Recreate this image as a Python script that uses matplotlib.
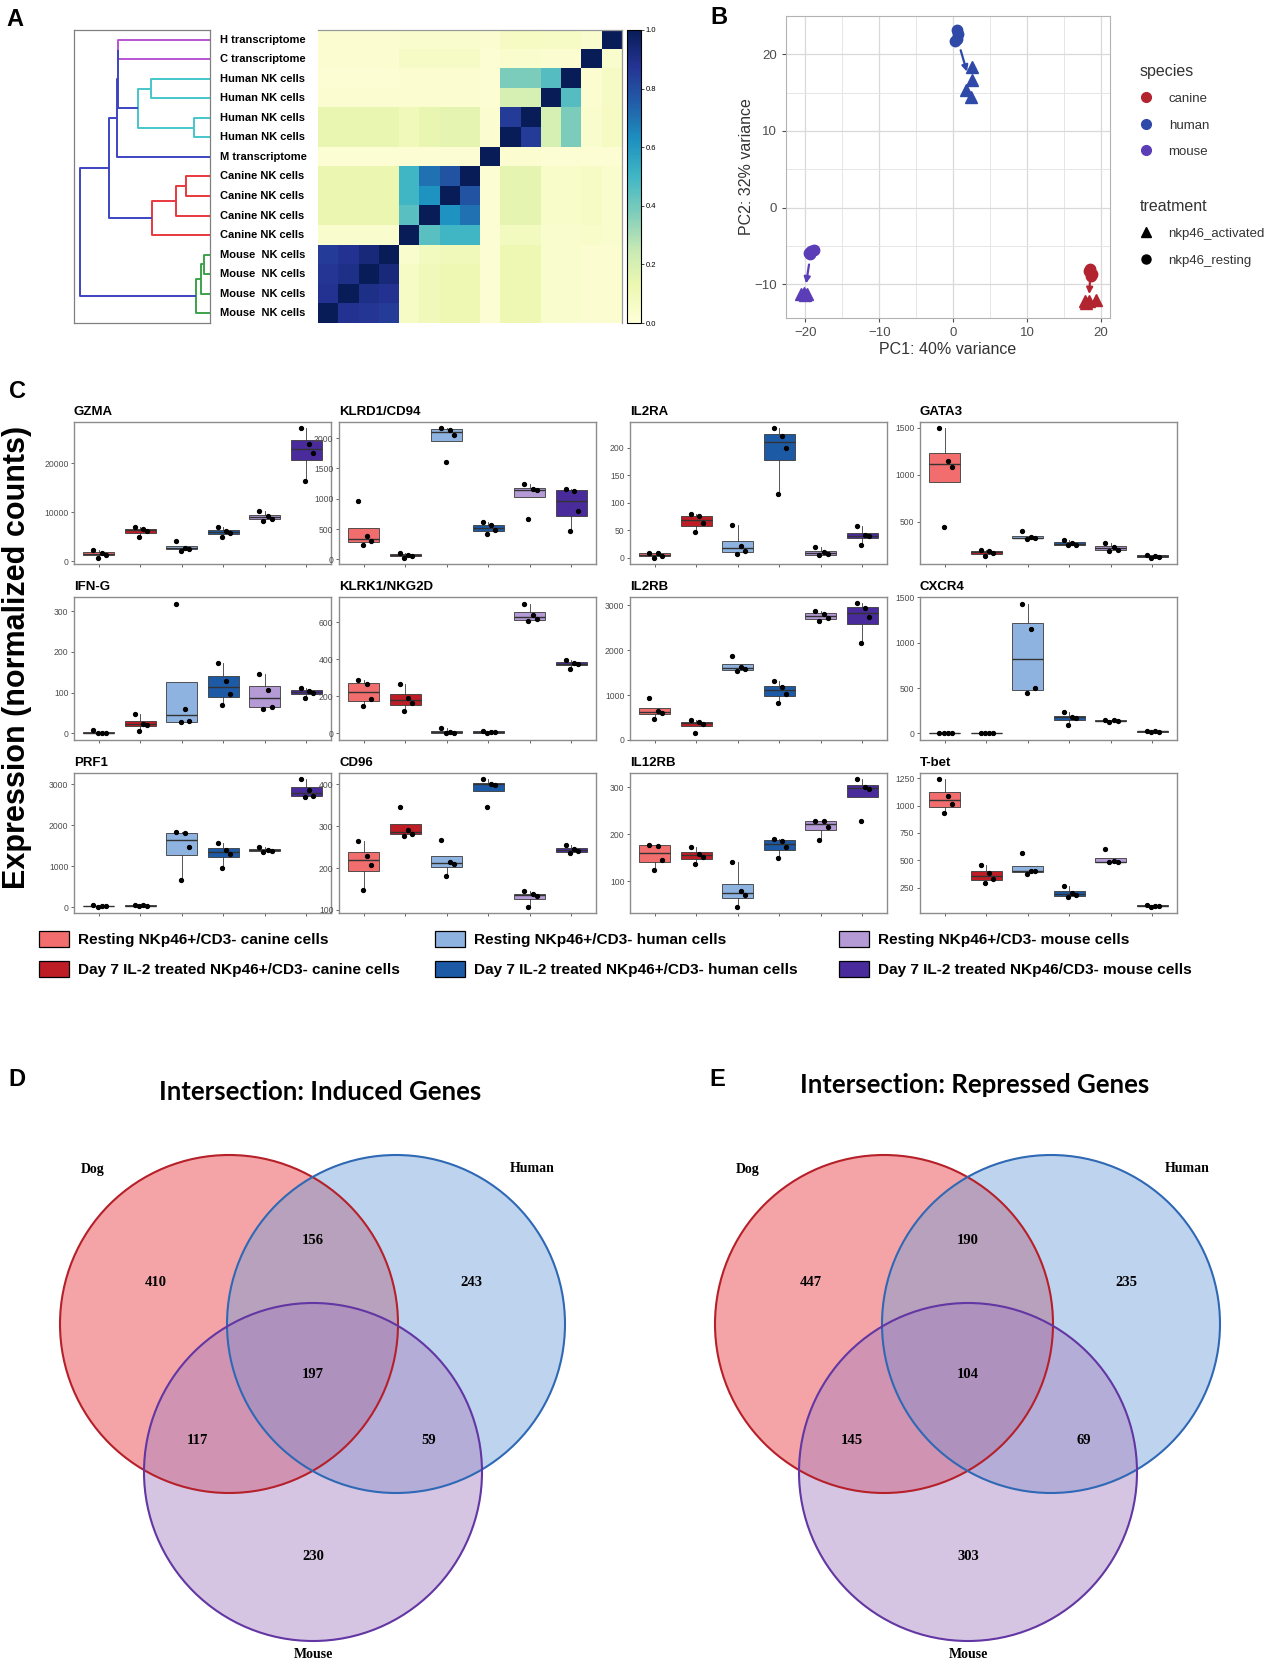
import matplotlib
matplotlib.use('Agg')
import matplotlib.pyplot as plt
import matplotlib.transforms as mtrans
import numpy as np
from matplotlib.patches import Circle, Patch
from matplotlib.lines import Line2D

plt.rcParams['font.family'] = ['Liberation Sans', 'DejaVu Sans']

# ---------------- data: panel A ----------------
sample_labels = ['H transcriptome', 'C transcriptome',
                 'Human NK cells', 'Human NK cells', 'Human NK cells', 'Human NK cells',
                 'M transcriptome',
                 'Canine NK cells', 'Canine NK cells', 'Canine NK cells', 'Canine NK cells',
                 'Mouse  NK cells', 'Mouse  NK cells', 'Mouse  NK cells', 'Mouse  NK cells']

# correlation matrix as shown (rows top->bottom, columns left->right)
similarity = [
    [0.03, 0.03, 0.03, 0.03, 0.04, 0.04, 0.04, 0.04, 0.03, 0.07, 0.07, 0.06, 0.06, 0.04, 1.00],
    [0.03, 0.03, 0.03, 0.03, 0.06, 0.06, 0.06, 0.06, 0.02, 0.04, 0.04, 0.03, 0.03, 1.00, 0.04],
    [0.02, 0.02, 0.02, 0.02, 0.03, 0.03, 0.03, 0.03, 0.02, 0.38, 0.38, 0.46, 1.00, 0.03, 0.06],
    [0.03, 0.03, 0.03, 0.03, 0.03, 0.03, 0.03, 0.03, 0.02, 0.20, 0.20, 1.00, 0.46, 0.03, 0.06],
    [0.14, 0.14, 0.14, 0.14, 0.10, 0.14, 0.15, 0.15, 0.03, 0.85, 1.00, 0.20, 0.38, 0.04, 0.07],
    [0.14, 0.14, 0.14, 0.14, 0.10, 0.14, 0.15, 0.15, 0.03, 1.00, 0.85, 0.20, 0.38, 0.04, 0.07],
    [0.02, 0.02, 0.02, 0.02, 0.02, 0.02, 0.02, 0.02, 1.00, 0.03, 0.03, 0.02, 0.02, 0.02, 0.02],
    [0.13, 0.13, 0.13, 0.13, 0.50, 0.70, 0.78, 1.00, 0.02, 0.15, 0.15, 0.05, 0.05, 0.06, 0.04],
    [0.13, 0.13, 0.13, 0.13, 0.50, 0.62, 1.00, 0.78, 0.02, 0.15, 0.15, 0.05, 0.05, 0.06, 0.04],
    [0.13, 0.13, 0.13, 0.13, 0.45, 1.00, 0.62, 0.70, 0.02, 0.15, 0.15, 0.05, 0.05, 0.06, 0.04],
    [0.04, 0.04, 0.04, 0.04, 1.00, 0.45, 0.50, 0.50, 0.02, 0.08, 0.08, 0.04, 0.04, 0.05, 0.04],
    [0.85, 0.88, 0.93, 1.00, 0.04, 0.08, 0.10, 0.10, 0.02, 0.12, 0.12, 0.04, 0.04, 0.03, 0.03],
    [0.87, 0.90, 1.00, 0.93, 0.06, 0.10, 0.12, 0.12, 0.02, 0.12, 0.12, 0.04, 0.04, 0.03, 0.03],
    [0.88, 1.00, 0.90, 0.88, 0.06, 0.10, 0.12, 0.12, 0.02, 0.12, 0.12, 0.04, 0.04, 0.03, 0.03],
    [1.00, 0.88, 0.87, 0.85, 0.06, 0.10, 0.12, 0.12, 0.02, 0.12, 0.12, 0.04, 0.04, 0.03, 0.03],
]

# dendrogram merges: (child a, child b, height, colour); new nodes numbered from 15
merges = [
    (0, 1, 85.5, 'purple'),
    (2, 3, 55.5, 'cyan'),
    (4, 5, 15.0, 'cyan'),
    (16, 17, 67.0, 'cyan'),
    (15, 18, 86.0, 'blue'),
    (19, 6, 86.6, 'blue'),
    (7, 8, 22.0, 'red'),
    (21, 9, 32.0, 'red'),
    (22, 10, 54.0, 'red'),
    (20, 23, 94.0, 'blue'),
    (11, 12, 6.0, 'green'),
    (25, 13, 8.5, 'green'),
    (26, 14, 13.0, 'green'),
    (24, 27, 121.0, 'blue'),
]
link_colours = {'purple': '#b455d2', 'cyan': '#45c6c9', 'blue': '#3c44c2',
                'red': '#e8383d', 'green': '#3da34a'}

# ---------------- data: panel B ----------------
canine_rest_pc1 = [18.5, 18.7, 18.4, 18.6]
canine_rest_pc2 = [-8.0, -8.6, -8.3, -8.9]
canine_act_pc1 = [17.8, 18.3, 19.3, 18.0]
canine_act_pc2 = [-12.2, -12.2, -12.0, -12.5]
human_rest_pc1 = [0.5, 0.6, 0.2, 0.5]
human_rest_pc2 = [23.2, 22.6, 21.8, 22.0]
human_act_pc1 = [2.6, 2.6, 1.75, 2.35]
human_act_pc2 = [18.4, 16.6, 15.3, 14.4]
mouse_rest_pc1 = [-18.8, -19.5, -19.2, -19.4]
mouse_rest_pc2 = [-5.5, -5.9, -5.7, -6.0]
mouse_act_pc1 = [-20.6, -19.7, -20.1, -20.0]
mouse_act_pc2 = [-11.3, -11.3, -11.1, -11.4]
species = ['canine', 'human', 'mouse']
species_colours = ['#b22430', '#2f49a8', '#5b3db8']

# ---------------- data: panel C ----------------
genes = ['GZMA', 'KLRD1/CD94', 'IL2RA', 'GATA3',
         'IFN-G', 'KLRK1/NKG2D', 'IL2RB', 'CXCR4',
         'PRF1', 'CD96', 'IL12RB', 'T-bet']
gzma = [[2300, 1700, 1400, 800], [7000, 6600, 6200, 4900], [4100, 2800, 2600, 2200],
        [7100, 6300, 5700, 5000], [10300, 9300, 8700, 8200], [27100, 23900, 22000, 16400]]
klrd1 = [[960, 380, 300, 240], [100, 80, 60, 30], [2160, 2140, 2060, 1600],
         [610, 560, 480, 420], [1250, 1160, 1140, 670], [1160, 1130, 790, 460]]
il2ra = [[9, 8, 3, 0], [79, 75, 62, 46], [59, 21, 12, 6],
         [235, 222, 199, 116], [19, 10, 6, 4], [57, 41, 39, 22]]
gata3 = [[1490, 1140, 1080, 440], [195, 185, 170, 135], [400, 335, 325, 320],
         [310, 270, 255, 250], [270, 230, 205, 190], [150, 140, 130, 120]]
ifng = [[8, 2, 1, 0], [47, 24, 22, 5], [319, 61, 30, 27],
        [172, 130, 97, 70], [145, 106, 66, 61], [112, 105, 100, 87]]
klrk1 = [[290, 265, 185, 150], [265, 192, 165, 120], [30, 8, 3, 0],
         [15, 10, 6, 3], [700, 640, 615, 605], [395, 380, 372, 350]]
il2rb = [[940, 640, 610, 460], [440, 390, 360, 150], [1870, 1620, 1580, 1530],
         [1310, 1180, 1030, 830], [2880, 2800, 2710, 2640], [3040, 2930, 2730, 2160]]
cxcr4 = [[8, 4, 2, 0], [10, 8, 6, 4], [1430, 1150, 495, 440],
         [235, 185, 175, 90], [150, 145, 140, 130], [30, 25, 20, 18]]
prf1 = [[40, 25, 15, 10], [50, 40, 30, 25], [1830, 1800, 1460, 670],
        [1570, 1400, 1300, 950], [1470, 1400, 1370, 1350], [3120, 2860, 2720, 2690]]
cd96 = [[265, 230, 208, 148], [347, 290, 282, 276], [268, 215, 210, 182],
        [412, 402, 398, 347], [146, 137, 133, 108], [255, 246, 240, 235]]
il12rb = [[178, 176, 146, 124], [173, 158, 152, 137], [140, 80, 70, 46],
          [190, 186, 172, 150], [229, 228, 216, 187], [317, 301, 297, 229]]
tbet = [[1240, 1090, 1010, 935], [455, 380, 330, 290], [570, 405, 400, 375],
        [265, 200, 180, 160], [600, 490, 485, 480], [90, 85, 80, 75]]
expression = [gzma, klrd1, il2ra, gata3, ifng, klrk1, il2rb, cxcr4, prf1, cd96, il12rb, tbet]
gene_ticks = [[0, 10000, 20000], [0, 500, 1000, 1500, 2000], [0, 50, 100, 150, 200], [500, 1000, 1500],
              [0, 100, 200, 300], [0, 200, 400, 600], [0, 1000, 2000, 3000], [0, 500, 1000, 1500],
              [0, 1000, 2000, 3000], [100, 200, 300, 400], [100, 200, 300], [250, 500, 750, 1000, 1250]]
group_labels = ['Resting NKp46+/CD3- canine cells', 'Day 7 IL-2 treated NKp46+/CD3- canine cells',
                'Resting NKp46+/CD3- human cells', 'Day 7 IL-2 treated NKp46+/CD3- human cells',
                'Resting NKp46+/CD3- mouse cells', 'Day 7 IL-2 treated NKp46/CD3- mouse cells']
group_colours = ['#f26d6d', '#bf1d25', '#8fb3e0', '#1c5aa6', '#b49bd6', '#4a2b9c']

# ---------------- data: panels D / E ----------------
venn_sets = ['Dog', 'Human', 'Mouse']
# regions: dog only, dog&human, human only, all, dog&mouse, human&mouse, mouse only
induced_counts = [410, 156, 243, 197, 117, 59, 230]
repressed_counts = [447, 190, 235, 104, 145, 69, 303]

# ---------------- figure ----------------
W, H = 1280, 1662
fig = plt.figure(figsize=(W / 100, H / 100), dpi=100)


def px_axes(x0, y0, x1, y1):
    return fig.add_axes([x0 / W, 1 - y1 / H, (x1 - x0) / W, (y1 - y0) / H])


def letter(x, y, s):
    fig.text(x / W, 1 - y / H, s, ha='left', va='top', fontsize=17, weight='bold')


# ---- A: dendrogram ----
ax_d = px_axes(74, 30, 210, 323)
pos = {i: float(i) for i in range(15)}
hgt = {i: 0.0 for i in range(15)}
for k, (a, b, h, c) in enumerate(merges):
    ax_d.plot([hgt[a], h, h, hgt[b]], [pos[a], pos[a], pos[b], pos[b]],
              color=link_colours[c], lw=1.4, solid_capstyle='butt')
    pos[15 + k] = (pos[a] + pos[b]) / 2
    hgt[15 + k] = h
ax_d.set_xlim(127, 0)
ax_d.set_ylim(14.5, -0.5)
ax_d.set_xticks([])
ax_d.set_yticks([])
for s in ax_d.spines.values():
    s.set_color('#808080')
    s.set_linewidth(0.9)

# ---- A: heatmap ----
ax_hm = px_axes(318, 30, 622, 323)
im = ax_hm.imshow(np.array(similarity), cmap='YlGnBu', vmin=0, vmax=1,
                  aspect='auto', interpolation='nearest')
ax_hm.set_xticks([])
ax_hm.set_yticks([])
for side, s in ax_hm.spines.items():
    s.set_visible(side in ('top', 'right'))
    s.set_color('#999999')
    s.set_linewidth(0.9)
trans = mtrans.blended_transform_factory(ax_hm.transAxes, ax_hm.transData)
for i, lab in enumerate(sample_labels):
    ax_hm.text(-0.322, i, lab, transform=trans, ha='left', va='center',
               fontsize=8.0, weight='bold')

cax = px_axes(627, 30, 641, 323)
cb = fig.colorbar(im, cax=cax, ticks=[0, 0.2, 0.4, 0.6, 0.8, 1.0])
cb.ax.tick_params(labelsize=5.5, length=2, width=0.5, pad=1.5)
cb.outline.set_linewidth(0.8)
letter(6, 8, 'A')

# ---- B: PCA ----
axB = px_axes(786, 16, 1110, 318)
pca = [(canine_rest_pc1, canine_rest_pc2, canine_act_pc1, canine_act_pc2),
       (human_rest_pc1, human_rest_pc2, human_act_pc1, human_act_pc2),
       (mouse_rest_pc1, mouse_rest_pc2, mouse_act_pc1, mouse_act_pc2)]
for (rx, ry, ax_, ay), col in zip(pca, species_colours):
    axB.plot(rx, ry, 'o', color=col, ms=7.5, zorder=3)
    axB.plot(ax_, ay, '^', color=col, ms=8, zorder=3)
    r0 = np.array([np.mean(rx), np.mean(ry)])
    a0 = np.array([np.mean(ax_), np.mean(ay)])
    start = r0 + 0.3 * (a0 - r0)
    end = r0 + 0.75 * (a0 - r0)
    axB.annotate('', xy=end, xytext=start,
                 arrowprops=dict(arrowstyle='-|>', color=col, lw=1.6, mutation_scale=9,
                                 shrinkA=0, shrinkB=0), zorder=3)
axB.set_xlim(-22.6, 21.2)
axB.set_ylim(-14.4, 25.0)
axB.set_xticks([-20, -10, 0, 10, 20])
axB.set_yticks([-10, 0, 10, 20])
axB.set_xticks([-15, -5, 5, 15], minor=True)
axB.set_yticks([-5, 5, 15], minor=True)
axB.grid(True, which='major', color='#d9d9d9', lw=0.9)
axB.grid(True, which='minor', color='#e6e6e6', lw=0.7)
axB.set_axisbelow(True)
axB.tick_params(which='major', labelsize=9.5, labelcolor='#4d4d4d', color='#4d4d4d', length=3)
axB.tick_params(which='minor', length=0)
for s in axB.spines.values():
    s.set_color('#b3b3b3')
axB.set_xlabel('PC1: 40% variance', fontsize=11.5, color='#333333', labelpad=2)
axB.set_ylabel('PC2: 32% variance', fontsize=11.5, color='#333333', labelpad=0)

leg_kw = dict(loc='upper left', frameon=False, fontsize=9.5, title_fontsize=11.5,
              alignment='left', borderpad=0, handlelength=1.0, handletextpad=1.2,
              labelspacing=1.08)
sp_handles = [Line2D([], [], marker='o', ls='', color=c, ms=7) for c in species_colours]
leg1 = axB.legend(sp_handles, species, title='species',
                  bbox_to_anchor=((1133 - 786) / 324, (318 - 57) / 302), **leg_kw)
for t in leg1.get_texts():
    t.set_color('#333333')
leg1.get_title().set_color('#333333')
axB.add_artist(leg1)
tr_handles = [Line2D([], [], marker='^', ls='', color='black', ms=7.5),
              Line2D([], [], marker='o', ls='', color='black', ms=6.5)]
leg2 = axB.legend(tr_handles, ['nkp46_activated', 'nkp46_resting'], title='treatment',
                  bbox_to_anchor=((1133 - 786) / 324, (318 - 192) / 302), **leg_kw)
for t in leg2.get_texts():
    t.set_color('#333333')
leg2.get_title().set_color('#333333')
letter(710, 6, 'B')

# ---- C: box plots ----
col_left = [74, 339, 630, 920]
row_top = [422, 597, 773]
row_bottom = [564, 740, 913]
box_w = 257
jitter = [-0.13, 0.07, 0.17, -0.03]
for idx, (gene, vals, ticks) in enumerate(zip(genes, expression, gene_ticks)):
    r, c = divmod(idx, 4)
    ax = px_axes(col_left[c], row_top[r], col_left[c] + box_w, row_bottom[r])
    bp = ax.boxplot(vals, positions=range(1, 7), widths=0.75, patch_artist=True,
                    showcaps=False, showfliers=False,
                    boxprops=dict(edgecolor='#3a3a3a', linewidth=0.6),
                    medianprops=dict(color='#333333', linewidth=1.0),
                    whiskerprops=dict(color='#3a3a3a', linewidth=0.6))
    for patch, col in zip(bp['boxes'], group_colours):
        patch.set_facecolor(col)
    for g, v in enumerate(vals):
        ax.plot(np.array(jitter[:len(v)]) + g + 1, v, 'o', color='black', ms=2.8, zorder=4)
    ax.set_xlim(0.4, 6.6)
    ax.set_yticks(ticks)
    ax.set_xticks(range(1, 7))
    ax.set_xticklabels([])
    ax.tick_params(labelsize=6.2, labelcolor='#4d4d4d', color='#4d4d4d', length=2.5,
                   width=0.6, pad=1.5)
    for s in ax.spines.values():
        s.set_color('#8c8c8c')
        s.set_linewidth(1.0)
    ax.set_title(gene, loc='left', fontsize=9.5, weight='bold', pad=5)

letter(9, 380, 'C')
fig.text(17 / W, 1 - 657 / H, 'Expression (normalized counts)', rotation=90,
         ha='center', va='center', fontsize=22, weight='bold')

legend_x = [39, 435, 839]
for k, x in enumerate(legend_x):
    handles = [Patch(facecolor=group_colours[2 * k + j], edgecolor='black', linewidth=0.9)
               for j in range(2)]
    fig.legend(handles, group_labels[2 * k:2 * k + 2], loc='upper left',
               bbox_to_anchor=(x / W, 1 - 931 / H), frameon=False, borderpad=0,
               borderaxespad=0, handlelength=1.95, handleheight=1.22, handletextpad=0.55,
               labelspacing=0.9, prop=dict(weight='bold', size=11.1))

# ---- D / E: Venn diagrams ----
axV = px_axes(0, 1040, 1280, 1662)
axV.set_xlim(0, 1280)
axV.set_ylim(1662, 1040)
axV.axis('off')
radius = 169
centre_offsets = [(0, 0), (167, 0), (84, 148)]
face_cols = ['#e8363a', '#6f9fd8', '#a67fc0']
edge_cols = ['#b5202a', '#2f68b4', '#6236a3']
region_offsets = [(-73, -42), (84, -84), (242, -42), (84, 50), (-32, 117), (200, 117), (84, 233)]
set_label_offsets = [(-136, -155), (303, -155), (84, 331)]
venns = [(229, 1324, induced_counts, 'Intersection: Induced Genes', 1092, 'D', 8),
         (884, 1324, repressed_counts, 'Intersection: Repressed Genes', 1085, 'E', 709)]
for cx, cy, counts, title, ty, lab, lx in venns:
    for (dx, dy), fc in zip(centre_offsets, face_cols):
        axV.add_patch(Circle((cx + dx, cy + dy), radius, facecolor=fc, alpha=0.45,
                             edgecolor='none'))
    for (dx, dy), ec in zip(centre_offsets, edge_cols):
        axV.add_patch(Circle((cx + dx, cy + dy), radius, facecolor='none',
                             edgecolor=ec, lw=1.5))
    for (dx, dy), n in zip(region_offsets, counts):
        axV.text(cx + dx, cy + dy, str(n), ha='center', va='center', fontsize=10.5,
                 weight='bold', family=['Liberation Serif', 'DejaVu Serif'])
    for (dx, dy), name in zip(set_label_offsets, venn_sets):
        axV.text(cx + dx, cy + dy, name, ha='center', va='center', fontsize=10,
                 weight='bold', family=['Liberation Serif', 'DejaVu Serif'])
    axV.text(cx + 91, ty, title, ha='center', va='center', fontsize=18.5, weight='bold',
             family=['Lato', 'DejaVu Sans'])
    letter(lx, 1068, lab)

fig.savefig('out.png', dpi=100)
